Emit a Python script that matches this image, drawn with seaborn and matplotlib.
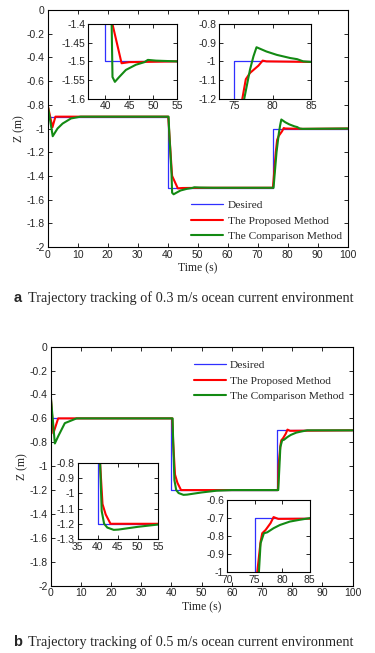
import numpy as np
import pandas as pd
import matplotlib
matplotlib.use("Agg")
import matplotlib.pyplot as plt
import seaborn as sns
from matplotlib.ticker import FormatStrFormatter

# ---- data ----
# panel a : 0.3 m/s current
a_des_t = [0, 40, 40, 75, 75, 100]
a_des_z = [-0.9, -0.9, -1.5, -1.5, -1.0, -1.0]

a_pro_t = [0, 1.6, 2.6, 40.2, 41.3, 41.5, 43.4, 45, 55, 75.1, 76.05, 76.5, 77.05, 78.15, 78.7, 79.2, 85, 100]
a_pro_z = [-0.8, -0.99, -0.9, -0.9, -1.33, -1.4, -1.505, -1.502, -1.5, -1.5, -1.2, -1.096, -1.062, -1.023, -0.996, -1.0, -1.003, -1.0]

a_cmp_t = [0, 1.7, 3.3, 5, 7.8, 11, 40.3, 40.6, 41.3, 41.5, 42.0, 42.9, 44.3, 46.4, 48.2, 48.9, 50.6, 55,
           75.3, 76.3, 77.05, 77.5, 77.9, 79.2, 80.55, 82.3, 83.2, 84.0, 85, 100]
a_cmp_z = [-0.8, -1.065, -1.0, -0.958, -0.915, -0.9, -0.9, -1.06, -1.38, -1.542, -1.555, -1.542, -1.523, -1.509, -1.502, -1.496, -1.498, -1.5,
           -1.5, -1.2, -1.044, -0.973, -0.924, -0.947, -0.965, -0.982, -0.988, -1.0, -1.003, -1.0]

# panel b : 0.5 m/s current
b_des_t = [0, 40, 40, 75, 75, 100]
b_des_z = [-0.6, -0.6, -1.2, -1.2, -0.7, -0.7]

b_pro_t = [0, 0.9, 2.5, 40.3, 40.6, 41.2, 42.0, 43.2, 55, 75.3, 75.5, 76.1, 76.4, 77.0, 77.9, 78.45, 79.3, 100]
b_pro_z = [-0.4, -0.725, -0.6, -0.6, -0.8, -1.07, -1.139, -1.2, -1.2, -1.2, -1.0, -0.831, -0.784, -0.766, -0.728, -0.694, -0.704, -0.7]

b_cmp_t = [0, 1.4, 2.5, 4.7, 8.6, 40.4, 40.6, 41.0, 41.6, 42.4, 44.0, 45.2, 50, 55, 60,
           75.4, 75.8, 76.1, 76.7, 77.3, 78.45, 79.6, 81.4, 83.2, 85, 100]
b_cmp_z = [-0.4, -0.81, -0.75, -0.64, -0.6, -0.6, -0.8, -1.116, -1.2, -1.225, -1.24, -1.238, -1.22, -1.205, -1.2,
           -1.2, -1.0, -0.84, -0.784, -0.779, -0.756, -0.738, -0.719, -0.709, -0.7, -0.7]

main_yticks = [-2, -1.8, -1.6, -1.4, -1.2, -1, -0.8, -0.6, -0.4, -0.2, 0]
main_xticks = [0, 10, 20, 30, 40, 50, 60, 70, 80, 90, 100]

labels = ["Desired", "The Proposed Method", "The Comparison Method"]
colors = ["#2f2fff", "#ff0000", "#138a13"]
widths = [0.9, 1.5, 1.5]

sns.set_style("ticks")
plt.rcParams["font.family"] = ["Liberation Sans", "DejaVu Sans"]
plt.rcParams["axes.unicode_minus"] = False
plt.rcParams["xtick.direction"] = "in"
plt.rcParams["ytick.direction"] = "in"

serif = ["Liberation Serif", "DejaVu Serif"]


def make_df(series):
    rows = []
    for name, (t, z) in zip(labels, series):
        rows.append(pd.DataFrame({"t": t, "z": z, "curve": name}))
    return pd.concat(rows, ignore_index=True)


def draw(ax, df, legend=False):
    for name, c, w in zip(labels, colors, widths):
        sub = df[df["curve"] == name]
        sns.lineplot(data=sub, x="t", y="z", ax=ax, color=c, linewidth=w,
                     sort=False, estimator=None, label=name if legend else None,
                     legend=False)
    ax.set_xlabel("")
    ax.set_ylabel("")


def style(ax, xlim, ylim, xticks, yticks):
    ax.set_xlim(*xlim)
    ax.set_ylim(*ylim)
    ax.set_xticks(xticks)
    ax.set_yticks(yticks)
    ax.yaxis.set_major_formatter(FormatStrFormatter("%g"))
    ax.xaxis.set_major_formatter(FormatStrFormatter("%g"))
    ax.tick_params(top=True, right=True, length=3, width=0.7, labelsize=7.5, pad=2)
    for s in ax.spines.values():
        s.set_visible(True)
        s.set_linewidth(0.8)
        s.set_color("black")


fig = plt.figure(figsize=(3.75, 6.53), dpi=100)

df_a = make_df([(a_des_t, a_des_z), (a_pro_t, a_pro_z), (a_cmp_t, a_cmp_z)])
df_b = make_df([(b_des_t, b_des_z), (b_pro_t, b_pro_z), (b_cmp_t, b_cmp_z)])

# ---- panel a ----
ax_a = fig.add_axes([0.127, 0.6217, 0.800, 0.363])
draw(ax_a, df_a, legend=True)
style(ax_a, (0, 100), (-2, 0), main_xticks, main_yticks)
ax_a.set_xlabel("Time (s)", family=serif, fontsize=8.5, labelpad=2)
ax_a.set_ylabel("Z (m)", family=serif, fontsize=8.5, labelpad=1)
ax_a.legend(loc="upper left", bbox_to_anchor=(0.46, 0.222), frameon=False,
            prop={"family": serif, "size": 8.2}, handlelength=2.8,
            handletextpad=0.4, labelspacing=0.48, borderpad=0)

ins = fig.add_axes([0.235, 0.849, 0.237, 0.114])
draw(ins, df_a)
style(ins, (36.4, 55), (-1.6, -1.4), [40, 45, 50, 55], [-1.6, -1.55, -1.5, -1.45, -1.4])

ins = fig.add_axes([0.584, 0.849, 0.245, 0.114])
draw(ins, df_a)
style(ins, (73, 85), (-1.2, -0.8), [75, 80, 85], [-1.2, -1.1, -1.0, -0.9, -0.8])

# ---- panel b ----
ax_b = fig.add_axes([0.135, 0.1031, 0.805, 0.366])
draw(ax_b, df_b, legend=True)
style(ax_b, (0, 100), (-2, 0), main_xticks, main_yticks)
ax_b.set_xlabel("Time (s)", family=serif, fontsize=8.5, labelpad=2)
ax_b.set_ylabel("Z (m)", family=serif, fontsize=8.5, labelpad=1)
ax_b.legend(loc="upper left", bbox_to_anchor=(0.455, 0.966), frameon=False,
            prop={"family": serif, "size": 8.2}, handlelength=2.8,
            handletextpad=0.4, labelspacing=0.48, borderpad=0)

ins = fig.add_axes([0.207, 0.1746, 0.214, 0.1164])
draw(ins, df_b)
style(ins, (35, 55), (-1.3, -0.8), [35, 40, 45, 50, 55], [-1.3, -1.2, -1.1, -1.0, -0.9, -0.8])

ins = fig.add_axes([0.605, 0.124, 0.221, 0.110])
draw(ins, df_b)
style(ins, (70, 85), (-1.0, -0.6), [70, 75, 80, 85], [-1.0, -0.9, -0.8, -0.7, -0.6])

# ---- captions ----
fig.text(0.035, 1 - 298 / 653, "a", fontsize=10.5, fontweight="bold", va="center")
fig.text(0.075, 1 - 298 / 653, "Trajectory tracking of 0.3 m/s ocean current environment",
         family=serif, fontsize=10.3, va="center")
fig.text(0.035, 1 - 642 / 653, "b", fontsize=10.5, fontweight="bold", va="center")
fig.text(0.075, 1 - 642 / 653, "Trajectory tracking of 0.5 m/s ocean current environment",
         family=serif, fontsize=10.3, va="center")

fig.savefig("out.png", dpi=100)
